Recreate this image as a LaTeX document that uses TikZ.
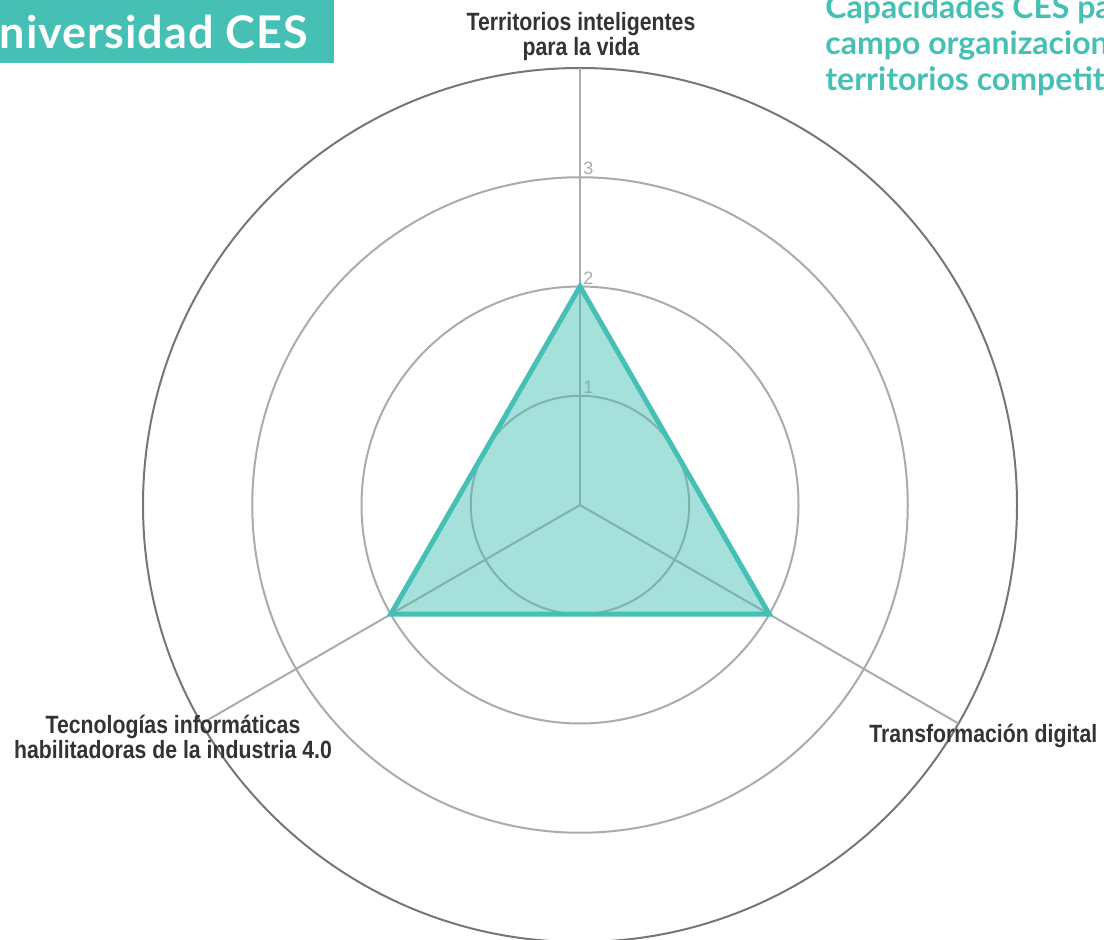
\documentclass[tikz,border=0pt]{standalone}
\usepackage{fontspec}
\setmainfont{Liberation Sans}
\newfontfamily\etiquetafont[FakeStretch=0.85]{Liberation Sans}
\newfontfamily\titulofont[LetterSpace=2]{Lato}
\newfontfamily\subtitulofont{Lato}
\definecolor{cesteal}{HTML}{46BFB4}
\definecolor{gridgray}{HTML}{ABABAB}
\definecolor{rimgray}{HTML}{767676}
\definecolor{labelgray}{HTML}{333333}

\begin{document}
\begin{tikzpicture}[x=0.5pt,y=0.5pt]
	\tikzstyle{anillo}=[draw=gridgray,line width=1pt]
	\tikzstyle{radio}=[draw=gridgray,line width=1pt]
	\tikzstyle{marca}=[text=gridgray,font=\fontsize{9}{9}\selectfont,inner sep=0pt,anchor=base west]
	\tikzstyle{eje}=[text=labelgray,font=\etiquetafont\bfseries\fontsize{12.5}{11.7}\selectfont,align=center,inner sep=0pt]
	\tikzstyle{serie}=[draw=cesteal,line width=2.5pt,fill=cesteal,fill opacity=0.48]
	\useasboundingbox (0,0) rectangle (1104,-940);
	\coordinate (centro) at (580,-505);
	\begin{scope}[shift={(centro)}]
		\foreach \r in {1,2,3}
			\draw[anillo] (0,0) circle [radius=\r*109.25];
		\draw[draw=rimgray,line width=1pt] (0,0) circle [radius=437];
		\foreach \a/\n in {90/t,210/l,330/r}
			\coordinate (borde\n) at (\a:437);
		\draw[radio] (centro) -- (bordet);
		\draw[radio] (centro) -- (bordel);
		\draw[radio] (centro) -- (border);
		\node (m1) [marca] at (3,111) {1};
		\node (m2) [marca] at (3,220.5) {2};
		\node (m3) [marca] at (3,330) {3};
		\coordinate (vt) at (90:218.5);
		\coordinate (vl) at (210:218.5);
		\coordinate (vr) at (330:218.5);
		\draw[serie] (vt) -- (vr) -- (vl) -- cycle;
	\end{scope}
	\node (ejet) [eje,anchor=base] at (581,-56) {Territorios inteligentes\\para la vida};
	\node (ejer) [eje,anchor=base west] at (869,-743) {Transformación digital};
	\node (ejel) [eje,anchor=base] at (173,-759) {Tecnologías informáticas\\habilitadoras de la industria 4.0};
	\node (titulo) [fill=cesteal,text=white,font=\titulofont\bfseries\fontsize{22.5}{22.5}\selectfont,anchor=north east,inner xsep=13pt,inner ysep=0pt,minimum height=31.5pt] at (334,0) {Universidad CES};
	\node (subtitulo) [text=cesteal,font=\subtitulofont\bfseries\fontsize{16}{18}\selectfont,align=left,anchor=base west,inner sep=0pt] at (825,-91) {Capacidades CES para el\\campo organizacional de\\territorios competitivos};
\end{tikzpicture}
\end{document}
